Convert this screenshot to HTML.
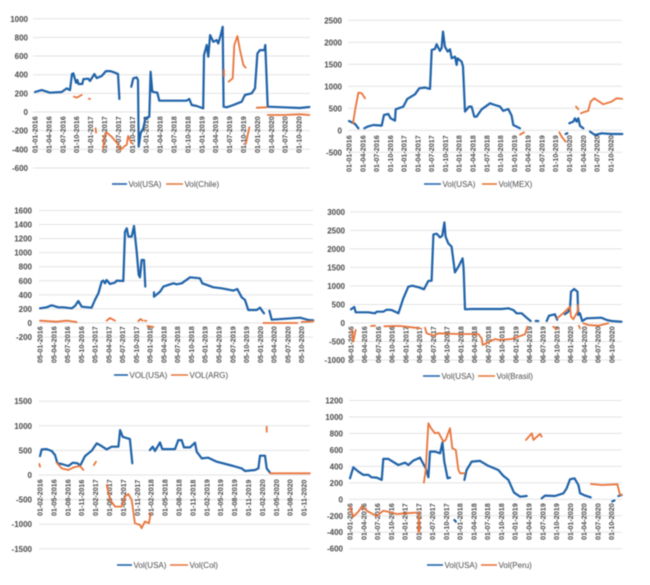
<!DOCTYPE html>
<html>
<head>
<meta charset="utf-8">
<title>Vol charts</title>
<style>
html,body{margin:0;padding:0;background:#fff;}
#page{width:650px;height:585px;overflow:hidden;background:#fff;}
svg{display:block;filter:blur(0.6px);}
text{font-family:"Liberation Sans",sans-serif;fill:#4a4a4a;}
</style>
</head>
<body>
<div id="page">
<svg id="figure" width="650" height="585" viewBox="0 0 650 585" xmlns="http://www.w3.org/2000/svg"></svg>
</div>
<script>
// Time values are in quarters since the first category; null marks a gap in the line.
const chart1Categories = ["01-01-2016","01-04-2016","01-07-2016","01-10-2016","01-01-2017","01-04-2017","01-07-2017","01-10-2017","01-01-2018","01-04-2018","01-07-2018","01-10-2018","01-01-2019","01-04-2019","01-07-2019","01-10-2019","01-01-2020","01-04-2020","01-07-2020","01-10-2020"];
const chart1Ticks = [1000,800,600,400,200,0,-200,-400,-600];
const chart1UsaTime = [0,.48,1.08,1.92,2.28,2.52,2.66,2.76,2.95,3.05,3.12,3.4,3.48,3.84,3.96,4.27,4.44,4.8,5.1,5.4,5.76,5.97,6.07,null,6.93,7.07,7.31,7.41,7.46,7.6,7.79,7.94,8.22,8.32,8.44,8.8,8.94,10.9,11.1,11.27,11.63,12.1,12.16,12.35,12.47,12.6,12.83,13.07,13.19,13.36,13.5,13.57,13.79,14.27,14.87,15.1,15.59,15.83,16,16.19,16.5,16.57,16.74,17.87,19.06,19.74];
const chart1UsaVol = [214,235,207,214,253,235,407,414,314,343,300,300,353,357,332,407,364,386,439,439,421,407,139,null,271,361,371,343,-371,-228,-175,-68,-50,432,218,207,121,121,139,75,64,39,610,718,593,825,753,771,735,825,914,57,50,75,110,182,200,253,628,664,664,718,57,50,43,54];
const chart1ChileTime = [2.8,3,3.36,null,3.88,3.96,null,4.36,4.39,null,4.92,4.96,5.16,5.5,5.92,6.12,6.47,6.6,6.7,6.95,null,13.6,13.6,null,13.93,14.22,14.34,14.56,14.75,14.99,15.16,null,15.16,15.23,15.42,null,15.95,16.67,null,16.74,17.87,19.06,19.74];
const chart1ChileVol = [164,154,182,null,143,139,null,-175,-221,null,-389,-264,-221,-264,-336,-407,-364,-353,-257,-336,null,450,386,null,325,361,718,814,664,503,475,null,-343,-300,-164,null,46,50,null,-32,-32,-25,-32];

const chart2Categories = ["01-01-2016","01-04-2016","01-07-2016","01-10-2016","01-01-2017","01-04-2017","01-07-2017","01-10-2017","01-01-2018","01-04-2018","01-07-2018","01-10-2018","01-01-2019","01-04-2019","01-07-2019","01-10-2019","01-01-2020","01-04-2020","01-07-2020","01-10-2020"];
const chart2Ticks = [2500,2000,1500,1000,500,0,-500];
const chart2UsaTime = [0,.24,.44,.68,null,1.11,1.35,1.77,2.37,2.54,2.85,3.02,3.34,3.39,3.94,4.23,4.79,5.1,5.51,5.88,6,6.24,6.36,6.6,6.72,6.82,6.96,7.16,7.33,7.45,7.69,7.81,7.88,8.17,8.27,8.42,8.71,8.9,9.09,9.26,9.63,10.23,10.59,10.96,11.2,11.56,11.8,11.92,12.41,null,15.72,15.84,null,15.99,16.28,16.4,16.52,16.64,16.76,17,null,17.49,17.85,18.33,19.06,19.83];
const chart2UsaVol = [212,174,144,45,null,45,83,121,106,349,371,273,220,478,538,713,819,955,970,940,1827,1850,1956,1804,1865,2244,1903,1789,1842,1637,1675,1486,1637,1561,1448,424,538,538,311,311,478,614,576,538,440,485,333,121,45,null,-83,-68,null,159,197,273,197,273,99,45,null,-30,-106,-68,-83,-83];
const chart2MexTime = [.29,.44,.68,.92,1.16,null,12.41,12.7,null,15.26,15.43,15.72,null,16.47,16.64,null,16.83,17,17.36,17.53,17.8,17.97,18.45,19.06,19.42,19.83];
const chart2MexVol = [159,462,857,841,728,null,-99,-45,null,-45,-144,-258,null,538,478,null,387,409,440,652,728,690,591,652,728,713];

const chart3Categories = ["05-01-2016","05-04-2016","05-07-2016","05-10-2016","05-01-2017","05-04-2017","05-07-2017","05-10-2017","05-01-2018","05-04-2018","05-07-2018","05-10-2018","05-01-2019","05-04-2019","05-07-2019","05-10-2019","05-01-2020","05-04-2020","05-07-2020","05-10-2020"];
const chart3Ticks = [1600,1400,1200,1000,800,600,400,200,0,-200];
const chart3UsaTime = [0,.48,.85,1.33,1.69,2.3,2.54,2.78,3.03,3.75,3.99,4.24,4.48,4.6,4.72,4.84,5.08,5.45,5.57,6.05,6.17,6.3,6.42,6.66,6.83,7.02,7.17,7.26,7.38,7.55,7.65,null,8.28,8.28,8.72,8.96,9.69,9.93,10.29,10.9,11.62,11.79,12.59,13.2,14.04,14.33,14.65,14.89,15.13,15.74,15.98,16.27,null,16.66,16.83,18.89,19.5,19.85];
const chart3UsaVol = [209,223,251,223,223,209,242,313,232,218,327,422,588,602,564,611,555,574,602,597,1299,1346,1228,1228,1379,1014,683,649,896,896,517,null,436,374,446,517,564,550,564,649,635,564,507,493,460,483,365,327,185,185,218,137,null,175,47,76,43,38];
const chart3ArgTime = [0,.73,1.2,1.94,2.66,null,4.84,5.08,5.45,null,7.14,7.31,7.46,null,7.62,7.72,null,7.8,8.23,null,16.22,18.69,null,19,19.85];
const chart3ArgVol = [33,24,19,33,14,null,33,71,33,null,28,57,33,null,33,30,null,-43,-57,null,0,0,null,14,24];

const chart4Categories = ["06-01-2016","06-04-2016","06-07-2016","06-10-2016","06-01-2017","06-04-2017","06-07-2017","06-10-2017","06-01-2018","06-04-2018","06-07-2018","06-10-2018","06-01-2019","06-04-2019","06-07-2019","06-10-2019","06-01-2020","06-04-2020","06-07-2020","06-10-2020"];
const chart4Ticks = [3000,2500,2000,1500,1000,500,0,-500,-1000];
const chart4UsaTime = [0,.24,.34,1.26,1.75,1.87,2.35,2.6,2.96,3.45,3.81,4.17,4.47,5.02,5.32,5.63,5.87,6,6.24,6.48,6.65,6.8,6.89,7.09,7.33,7.57,7.82,8.13,8.2,8.3,8.79,9.51,10.97,11.46,11.82,12.06,12.43,12.79,13.08,null,13.45,13.64,null,14.25,14.42,14.85,15.02,null,15.58,15.83,15.95,16.02,16.26,16.5,16.55,16.67,16.84,17.16,18.25,18.62,18.98,19.7];
const chart4UsaVol = [369,431,288,288,261,306,306,360,351,261,665,980,1007,953,908,1133,1142,2391,2409,2310,2355,2715,2328,2149,2059,1366,1519,1744,1474,369,378,378,378,396,351,261,261,144,54,null,54,54,null,54,198,234,90,null,234,306,396,845,917,845,216,261,54,126,144,81,54,36];
const chart4BrasilTime = [.05,.17,.34,null,1.46,1.75,null,2.43,3.08,3.57,4.42,5.02,null,5.39,5.51,6,6.36,7.82,9.27,9.51,9.59,10.12,10.49,10.85,11.7,12.67,12.84,null,14.73,14.98,null,15.02,15.58,15.95,16.02,16.19,16.5,16.55,null,16.6,16.67,null,16.92,17.28,18,18.74];
const chart4BrasilVol = [-189,-503,-189,null,-81,-72,null,-90,-81,-81,-117,-144,null,-126,-279,-342,-279,-297,-297,-414,-593,-503,-432,-458,-432,-306,-99,null,-99,-162,null,126,306,441,171,99,306,486,null,-72,-144,null,-9,-54,-72,-9];

const chart5Categories = ["01-02-2016","01-05-2016","01-08-2016","01-11-2016","01-02-2017","01-05-2017","01-08-2017","01-11-2017","01-02-2018","01-05-2018","01-08-2018","01-11-2018","01-02-2019","01-05-2019","01-08-2019","01-11-2019","01-02-2020","01-05-2020","01-08-2020","01-11-2020"];
const chart5Ticks = [1500,1000,500,0,-500,-1000,-1500];
const chart5UsaTime = [0,.12,.48,.84,1.08,1.25,1.56,2.04,2.35,2.71,2.88,3.24,3.72,4.08,4.32,4.8,5.16,5.64,5.76,5.95,6.47,6.64,null,7.91,8.11,8.27,8.63,8.8,9.71,9.95,10.19,10.36,10.79,11.15,11.27,11.63,12.11,12.71,13.91,14.51,14.75,15.47,15.71,15.83,16.19,16.31,16.55];
const chart5UsaVol = [385,520,527,487,406,237,223,183,250,237,183,385,493,642,608,520,575,575,913,777,730,237,null,507,575,487,662,527,527,710,710,561,561,656,473,338,351,270,183,135,81,101,135,392,392,135,47];
const chart5ColTime = [-.05,0,null,1.2,1.56,2.04,2.4,2.88,3.12,null,3.88,4.03,null,4.8,5.04,5.4,5.88,6.12,6.35,6.6,6.83,7.19,7.31,7.55,7.84,7.96,null,16.31,16.31,null,16.55,19.42];
const chart5ColVol = [223,169,null,250,135,101,155,183,101,null,203,270,null,-203,-507,-642,-642,-439,-385,-507,-980,-1014,-1082,-946,-980,-777,null,980,879,null,34,34];

const chart6Categories = ["01-01-2016","01-04-2016","01-07-2016","01-10-2016","01-01-2017","01-04-2017","01-07-2017","01-10-2017","01-01-2018","01-04-2018","01-07-2018","01-10-2018","01-01-2019","01-04-2019","01-07-2019","01-10-2019","01-01-2020","01-04-2020","01-07-2020","01-10-2020"];
const chart6Ticks = [1200,1000,800,600,400,200,0,-200,-400,-600];
const chart6UsaTime = [0,.24,.6,.97,1.33,1.57,1.94,2.3,2.42,2.78,3.51,4,4.24,4.6,5.08,5.33,5.5,5.69,5.81,6.17,6.54,6.71,6.85,7.09,7.26,null,7.58,7.68,null,8.31,8.47,8.84,9.44,10.05,10.77,11.14,11.5,11.91,12.35,12.83,null,13.92,14.16,14.89,15.5,15.74,15.98,16.3,16.59,16.71,17.07,17.48,null,19.05,19.2,null,19.49,19.73];
const chart6UsaVol = [255,389,336,296,296,267,263,235,490,490,417,445,417,470,506,429,377,267,579,579,559,689,458,255,263,null,-251,-271,null,235,356,458,466,405,356,284,235,81,32,40,null,12,45,40,73,134,243,255,174,73,45,24,null,-25,-15,null,40,53];
const chart6PeruTime = [0,.24,.6,.85,1.33,1.94,2.42,2.78,3.39,4,4.84,null,4.96,5,5.04,null,5.37,5.5,5.69,5.88,6.17,6.42,6.78,6.95,7.26,7.43,7.68,7.87,8,8.31,null,12.78,13.2,13.32,13.8,13.92,null,17.5,18.28,19.42,19.61,19.73];
const chart6PeruVol = [-89,-211,-150,-89,-150,-203,-138,-150,-178,-170,-162,null,-393,-162,-393,null,203,356,923,863,802,810,701,721,863,620,599,356,316,316,null,721,802,721,794,761,null,186,174,182,53,53];

const NS = 'http://www.w3.org/2000/svg';
const BLUE = '#1f62a8';
const ORANGE = '#e8743b';
const figure = document.getElementById('figure');

function node(tag, parent, attrs) {
  const el = document.createElementNS(NS, tag);
  for (const k in attrs) el.setAttribute(k, attrs[k]);
  parent.appendChild(el);
  return el;
}

function drawSeries(group, times, vols, xScale, yScale, color, width, prefix) {
  let d = '';
  let pen = false;
  for (let i = 0; i < vols.length; i++) {
    if (vols[i] === null) { pen = false; continue; }
    d += (pen ? 'L' : 'M') + xScale(times[i]).toFixed(1) + ' ' + yScale(vols[i]).toFixed(1);
    pen = true;
  }
  const line = node('path', group, {d: d, fill: 'none', stroke: color, 'stroke-width': width, 'stroke-linejoin': 'round', 'stroke-linecap': 'round'});
  
  
}

function drawChart(o) {
  const group = node('g', figure, {});
  
  
  const xScale = q => o.x0 + q * o.step;
  const yScale = v => o.y0 - v * o.pxPerUnit;

  o.ticks.forEach(t => {
    const y = yScale(t);
    const grid = node('line', group, {x1: o.left, x2: o.right, y1: y, y2: y, stroke: '#e3e3e3', 'stroke-width': 1});
    
    
    const label = node('text', group, {x: o.tickX, y: y + 3, 'text-anchor': 'end', 'font-size': 8, 'font-weight': 'bold', fill: '#555'});
    
    
    label.textContent = t;
  });

  o.categories.forEach((c, i) => {
    const x = xScale(i) + 2.5;
    const label = node('text', group, {transform: 'translate(' + x.toFixed(1) + ' ' + o.labelBottom + ') rotate(-90)', 'font-size': 7.2, 'font-weight': 'bold', fill: '#555'});
    
    
    label.textContent = c;
  });

  drawSeries(group, o.usaTime, o.usaVol, xScale, yScale, BLUE, 2.2, 'usa');
  drawSeries(group, o.otherTime, o.otherVol, xScale, yScale, ORANGE, 1.8, o.otherKey);

  const blueKey = node('line', group, {x1: o.legend[0], x2: o.legend[1], y1: o.legendY, y2: o.legendY, stroke: BLUE, 'stroke-width': 1.6});
  
  
  const blueText = node('text', group, {x: o.legend[1] + 1.5, y: o.legendY + 2.8, 'font-size': 8, fill: '#555'});
  
  
  blueText.textContent = o.usaLabel;
  const orangeKey = node('line', group, {x1: o.legend[2], x2: o.legend[3], y1: o.legendY, y2: o.legendY, stroke: ORANGE, 'stroke-width': 1.6});
  
  
  const orangeText = node('text', group, {x: o.legend[3] + 1.5, y: o.legendY + 2.8, 'font-size': 8, fill: '#555'});
  
  
  orangeText.textContent = o.otherLabel;
}

drawChart({name:'chart-usa-chile', categories:chart1Categories, ticks:chart1Ticks, usaTime:chart1UsaTime, usaVol:chart1UsaVol, otherTime:chart1ChileTime, otherVol:chart1ChileVol, otherKey:'chile', usaLabel:'Vol(USA)', otherLabel:'Vol(Chile)', x0:35, step:13.9, y0:112, pxPerUnit:18.65/200, left:33, right:310, tickX:28, labelBottom:153, legend:[112,127,166,183], legendY:184});
drawChart({name:'chart-usa-mex', categories:chart2Categories, ticks:chart2Ticks, usaTime:chart2UsaTime, usaVol:chart2UsaVol, otherTime:chart2MexTime, otherVol:chart2MexVol, otherKey:'mex', usaLabel:'Vol(USA)', otherLabel:'Vol(MEX)', x0:349, step:13.78, y0:130.3, pxPerUnit:22/500, left:348, right:622, tickX:342, labelBottom:172, legend:[424,441,482,497], legendY:184});
drawChart({name:'chart-usa-arg', categories:chart3Categories, ticks:chart3Ticks, usaTime:chart3UsaTime, usaVol:chart3UsaVol, otherTime:chart3ArgTime, otherVol:chart3ArgVol, otherKey:'arg', usaLabel:'VOL(USA)', otherLabel:'VOL(ARG)', x0:40, step:13.77, y0:323, pxPerUnit:14.07/200, left:39, right:313, tickX:32, labelBottom:363, legend:[114,128,171,188], legendY:375});
drawChart({name:'chart-usa-brasil', categories:chart4Categories, ticks:chart4Ticks, usaTime:chart4UsaTime, usaVol:chart4UsaVol, otherTime:chart4BrasilTime, otherVol:chart4BrasilVol, otherKey:'brasil', usaLabel:'Vol(USA)', otherLabel:'Vol(Brasil)', x0:351, step:13.73, y0:323, pxPerUnit:18.53/500, left:350, right:622, tickX:345, labelBottom:363, legend:[423,440,478,495], legendY:376});
drawChart({name:'chart-usa-col', categories:chart5Categories, ticks:chart5Ticks, usaTime:chart5UsaTime, usaVol:chart5UsaVol, otherTime:chart5ColTime, otherVol:chart5ColVol, otherKey:'col', usaLabel:'Vol(USA)', otherLabel:'Vol(Col)', x0:40, step:13.9, y0:475, pxPerUnit:24.6/500, left:39, right:310, tickX:32, labelBottom:516, legend:[117,132,170,188], legendY:565});
drawChart({name:'chart-usa-peru', categories:chart6Categories, ticks:chart6Ticks, usaTime:chart6UsaTime, usaVol:chart6UsaVol, otherTime:chart6PeruTime, otherVol:chart6PeruVol, otherKey:'peru', usaLabel:'Vol(USA)', otherLabel:'Vol(Peru)', x0:350, step:13.77, y0:499.3, pxPerUnit:16.47/200, left:349, right:622, tickX:343, labelBottom:540, legend:[427,443,481,497], legendY:565});
</script>
</body>
</html>
